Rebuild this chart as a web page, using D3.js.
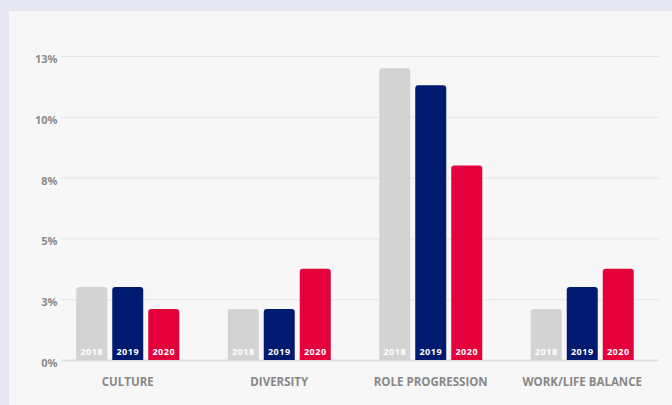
<!DOCTYPE html>
<html>
<head>
<meta charset="utf-8">
<script src="https://cdn.jsdelivr.net/npm/d3@7"></script>
<style>
  html, body { margin: 0; padding: 0; background: #e6e6f0; }
  svg { display: block; font-family: "Open Sans", sans-serif; }
</style>
</head>
<body>
<script>
// data
var categories = ["CULTURE", "DIVERSITY", "ROLE PROGRESSION", "WORK/LIFE BALANCE"];
var years = ["2018", "2019", "2020"];
var values2018 = [3.0, 2.1, 12.0, 2.1];
var values2019 = [3.0, 2.1, 11.3, 3.0];
var values2020 = [2.1, 3.75, 8.0, 3.75];
var tickValues = [0, 2.5, 5, 7.5, 10, 12.5];
var tickLabels = ["0%", "3%", "5%", "8%", "10%", "13%"];
var colors = ["#d3d3d3", "#001a70", "#e4003b"];

var W = 672, H = 405;
var LEFT = 61, RIGHT = 659, TOP = 56, BOTTOM = 360;

var svg = d3.select("body").append("svg").attr("width", W).attr("height", H);

// panel
svg.append("rect").attr("x", 9).attr("y", 11).attr("width", W).attr("height", H)
  .attr("fill", "#f7f7f7");

var y = d3.scaleLinear().domain([0, 12.5]).range([BOTTOM, TOP]);
var x0 = d3.scaleBand().domain(categories).range([52, 658]);
var x1 = d3.scaleBand().domain(years).range([-51.5, 51.5]).paddingInner(0.139);

// grid + y labels
var grid = svg.append("g");
grid.selectAll("line").data(tickValues).enter().append("line")
  .attr("x1", LEFT).attr("x2", RIGHT)
  .attr("y1", function (d) { return y(d) + 0.5; })
  .attr("y2", function (d) { return y(d) + 0.5; })
  .attr("stroke", function (d) { return d === 0 ? "#e2e2e2" : "#e4e4e4"; })
  .attr("stroke-width", function (d) { return d === 0 ? 2 : 1; });
grid.selectAll("text").data(tickValues).enter().append("text")
  .attr("x", 57.5)
  .attr("y", function (d) { return y(d) + 7; })
  .attr("text-anchor", "end")
  .attr("font-size", 11).attr("font-weight", 700).attr("fill", "#8a8a8a")
  .text(function (d, i) { return tickLabels[i]; });

var series = [values2018, values2019, values2020];
var rows = [];
categories.forEach(function (c, ci) {
  years.forEach(function (yr, yi) {
    rows.push({ cat: c, year: yr, yi: yi, v: series[yi][ci] });
  });
});

function topRounded(x, yTop, w, h, r) {
  return "M" + x + "," + (yTop + h) +
    "V" + (yTop + r) +
    "Q" + x + "," + yTop + " " + (x + r) + "," + yTop +
    "H" + (x + w - r) +
    "Q" + (x + w) + "," + yTop + " " + (x + w) + "," + (yTop + r) +
    "V" + (yTop + h) + "Z";
}

var bars = svg.append("g");
bars.selectAll("path").data(rows).enter().append("path")
  .attr("d", function (d) {
    var bx = x0(d.cat) + x0.bandwidth() / 2 + x1(d.year);
    return topRounded(bx, y(d.v), x1.bandwidth(), BOTTOM - y(d.v), 3);
  })
  .attr("fill", function (d) { return colors[d.yi]; });

bars.selectAll("text").data(rows).enter().append("text")
  .attr("x", function (d) { return x0(d.cat) + x0.bandwidth() / 2 + x1(d.year) + x1.bandwidth() / 2; })
  .attr("y", BOTTOM - 5)
  .attr("text-anchor", "middle")
  .attr("font-size", 9).attr("font-weight", 700).attr("letter-spacing", 0.5)
  .attr("fill", "#ffffff")
  .text(function (d) { return d.year; });

// x labels
svg.append("g").selectAll("text").data(categories).enter().append("text")
  .attr("x", function (d) { return x0(d) + x0.bandwidth() / 2; })
  .attr("y", 386)
  .attr("text-anchor", "middle")
  .attr("font-size", 11.5).attr("font-weight", 700).attr("fill", "#888888")
  .text(function (d) { return d; });
</script>
</body>
</html>
